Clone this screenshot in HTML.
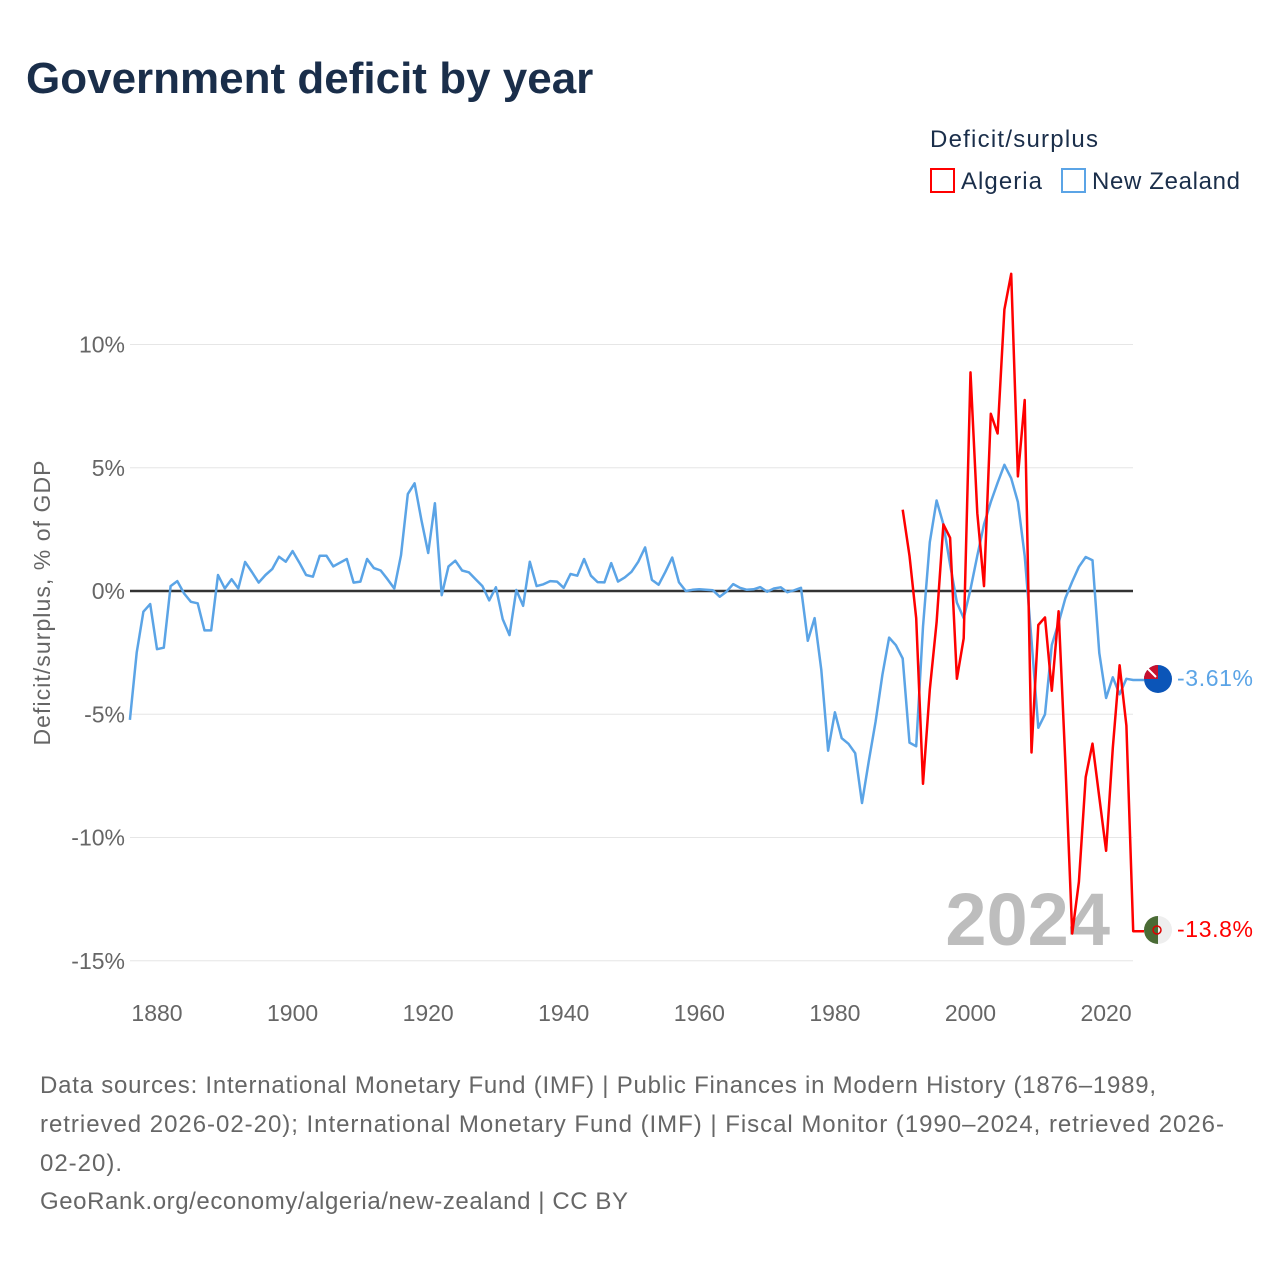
<!DOCTYPE html>
<html><head><meta charset="utf-8"><style>
body{margin:0;background:#fff;width:1280px;height:1280px;overflow:hidden;font-family:"Liberation Sans",sans-serif}
svg text{font-family:"Liberation Sans",sans-serif}
</style></head><body>
<svg id="chart" width="1280" height="1280" viewBox="0 0 1280 1280">
<text x="26" y="93" font-size="44" font-weight="bold" fill="#1a2e4a">Government deficit by year</text>
<text x="930" y="147" font-size="24" fill="#1a2e4a" textLength="168">Deficit/surplus</text>
<g><rect x="931" y="169" width="23" height="23" fill="none" stroke="#f00" stroke-width="2"/><text x="961" y="189" font-size="24" fill="#1a2e4a" textLength="81">Algeria</text></g>
<g><rect x="1062" y="169" width="23" height="23" fill="none" stroke="#5ba4e6" stroke-width="2"/><text x="1092" y="189" font-size="24" fill="#1a2e4a" textLength="148">New Zealand</text></g>
<text transform="translate(50,603) rotate(-90)" text-anchor="middle" font-size="23" fill="#666" textLength="285">Deficit/surplus, % of GDP</text>
<g id="grid"></g><g id="yt"></g><g id="xt"></g>
<text x="1110" y="945" text-anchor="end" font-size="74" font-weight="bold" fill="#bdbdbd">2024</text>
<g id="lines"></g>
<g>
<circle cx="1158" cy="679" r="14" fill="#0b55b8"/><path d="M1144,679 A14,14 0 0 1 1158,665 L1158,679 Z" fill="#c8102e"/><path d="M1147,668 L1156,677" stroke="#fff" stroke-width="2"/>
<text x="1177" y="686" font-size="23" fill="#5ba4e6" textLength="76">-3.61%</text></g>
<g>
<circle cx="1158" cy="930" r="14" fill="#eee"/><path d="M1158,916 A14,14 0 0 0 1158,944 Z" fill="#4a6b35"/><circle cx="1157" cy="930" r="4" fill="none" stroke="#d00" stroke-width="1.5"/>
<text x="1177" y="937" font-size="23" fill="#f00" textLength="76">-13.8%</text></g>
<g font-size="24" fill="#666">
<text x="40" y="1093" textLength="1116">Data sources: International Monetary Fund (IMF) | Public Finances in Modern History (1876–1989,</text>
<text x="40" y="1132" textLength="1184">retrieved 2026-02-20); International Monetary Fund (IMF) | Fiscal Monitor (1990–2024, retrieved 2026-</text>
<text x="40" y="1171" textLength="82">02-20).</text>
<text x="40" y="1209" textLength="588">GeoRank.org/economy/algeria/new-zealand | CC BY</text>
</g>
</svg>
<script>
const yTicks=[10,5,0,-5,-10,-15];
const yTickLabels=["10%","5%","0%","-5%","-10%","-15%"];
const xTicks=[1880,1900,1920,1940,1960,1980,2000,2020];
const nzStart=1876;
const nzValues=[-5.23,-2.5,-0.84,-0.53,-2.36,-2.3,0.2,0.4,-0.1,-0.44,-0.5,-1.6,-1.6,0.65,0.1,0.48,0.1,1.18,0.77,0.34,0.65,0.89,1.39,1.19,1.62,1.15,0.65,0.58,1.43,1.43,1.0,1.15,1.3,0.34,0.38,1.3,0.93,0.83,0.48,0.1,1.45,3.93,4.37,2.88,1.54,3.56,-0.17,1.0,1.23,0.83,0.76,0.48,0.2,-0.38,0.15,-1.14,-1.79,0.04,-0.6,1.19,0.2,0.27,0.4,0.38,0.13,0.69,0.62,1.3,0.62,0.36,0.35,1.13,0.38,0.55,0.78,1.19,1.77,0.45,0.25,0.78,1.36,0.35,0,0.05,0.07,0.05,0.03,-0.23,-0.03,0.28,0.13,0.05,0.07,0.16,-0.03,0.1,0.15,-0.05,0.03,0.13,-2.02,-1.1,-3.2,-6.48,-4.92,-5.97,-6.2,-6.58,-8.6,-6.9,-5.3,-3.4,-1.89,-2.2,-2.74,-6.15,-6.3,-1.45,1.98,3.67,2.7,1.07,-0.47,-1.1,0.07,1.43,2.7,3.61,4.39,5.12,4.57,3.61,1.43,-2.0,-5.55,-5.0,-2.19,-1.29,-0.29,0.38,0.98,1.38,1.25,-2.52,-4.34,-3.5,-4.19,-3.56,-3.61];
const dzStart=1990;
const dzValues=[3.3,1.43,-1.1,-7.82,-4.0,-1.27,2.7,2.16,-3.56,-1.92,8.87,3.16,0.2,7.19,6.39,11.42,12.87,4.65,7.75,-6.55,-1.38,-1.07,-4.05,-0.82,-7.0,-13.9,-11.8,-7.55,-6.19,-8.37,-10.54,-6.37,-3.01,-5.46,-13.8];
const X=yr=>157+(yr-1880)*6.779;
const Y=v=>591-24.65*v;
const NS="http://www.w3.org/2000/svg";
function mk(tag,attrs,parent,txt){const e=document.createElementNS(NS,tag);for(const k in attrs)e.setAttribute(k,attrs[k]);if(txt!==undefined)e.textContent=txt;parent.appendChild(e);return e;}
const grid=document.getElementById('grid'),yt=document.getElementById('yt'),xt=document.getElementById('xt'),lines=document.getElementById('lines');
yTicks.forEach((t,i)=>{
 const l=mk('line',{x1:130,x2:1133,y1:Y(t),y2:Y(t),stroke:t===0?'#333':'#e6e6e6','stroke-width':t===0?2.5:1},grid);
 
 
 const tx=mk('text',{x:125,y:Y(t)+8,'text-anchor':'end','font-size':23,fill:'#666'},yt,yTickLabels[i]);
 
 
});
xTicks.forEach(t=>{
 const tx=mk('text',{x:X(t),y:1021,'text-anchor':'middle','font-size':23,fill:'#666'},xt,String(t));
 
 
});
function series(start,vals,color,name){
 const pts=vals.map((v,i)=>X(start+i).toFixed(1)+','+Y(v).toFixed(1));
 const last=vals[vals.length-1];
 pts.push('1144,'+Y(last).toFixed(1));
 const p=mk('polyline',{points:pts.join(' '),fill:'none',stroke:color,'stroke-width':2.5,'stroke-linejoin':'round'},lines);
 
 
}
series(nzStart,nzValues,'#5ba4e6','new-zealand-line');
series(dzStart,dzValues,'#ff0000','algeria-line');
</script>
</body></html>
